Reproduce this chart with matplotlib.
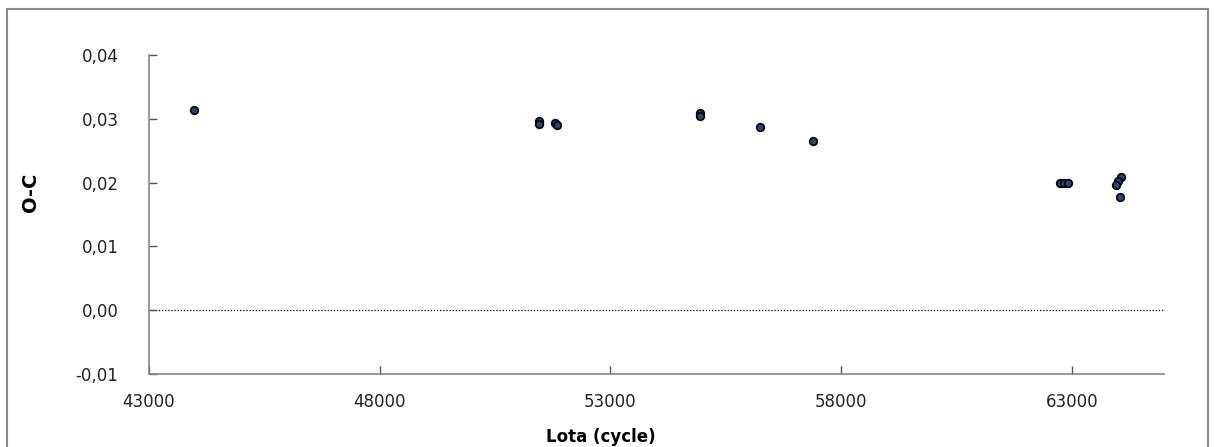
import matplotlib
matplotlib.use("Agg")
import matplotlib.pyplot as plt
from matplotlib.patches import Rectangle
from matplotlib.ticker import FuncFormatter

# Data (cycle number, O-C)
cycles = [43975, 51451, 51451, 51798, 51841, 54939, 54939, 56240, 57388,
          62740, 62830, 62913, 64062, 63997, 63953, 64040]
oc = [0.0314, 0.0297, 0.0292, 0.0293, 0.0290, 0.0309, 0.0304, 0.0287, 0.0265,
      0.0200, 0.0199, 0.0200, 0.0209, 0.0203, 0.0197, 0.0177]
xticks = [43000, 48000, 53000, 58000, 63000]
yticks = [-0.01, 0.0, 0.01, 0.02, 0.03, 0.04]

plt.rcParams['font.family'] = ['DejaVu Sans']

fig = plt.figure(figsize=(12.15, 4.47), dpi=100)
ax = fig.add_axes([149/1215, 1 - 374/447, (1164 - 149)/1215, (374 - 55)/447])

# Figure frame
fig.patches.append(Rectangle((7/1215, -0.05), (1208 - 7)/1215, 1.05 - 9/447,
                             transform=fig.transFigure, fill=False,
                             edgecolor='#8c8c8c', linewidth=1.5))

ax.axhline(0, color='black', linestyle=(0, (1, 1.5)), linewidth=0.9, zorder=1)
ax.plot(cycles, oc, linestyle='none', marker='o', markersize=5.5,
        markerfacecolor='#23477d', markeredgecolor='black',
        markeredgewidth=1.2, zorder=3)

ax.set_xlim(43000, 65000)
ax.set_ylim(-0.01, 0.04)
ax.set_xticks(xticks)
ax.set_yticks(yticks)
ax.yaxis.set_major_formatter(FuncFormatter(lambda v, p: f"{v:.2f}".replace('.', ',')))
ax.xaxis.set_major_formatter(FuncFormatter(lambda v, p: f"{int(v)}"))

for s in ['top', 'right']:
    ax.spines[s].set_visible(False)
for s in ['left', 'bottom']:
    ax.spines[s].set_color('#868686')
    ax.spines[s].set_linewidth(1.2)

ax.tick_params(direction='in', length=6, width=1, color='#555555',
               labelsize=12, labelcolor='#222222')
ax.tick_params(axis='y', pad=22)
ax.tick_params(axis='x', pad=14)

ax.set_xlabel('Lota (cycle)', fontsize=12, fontweight='bold')
ax.set_ylabel('O-C', fontsize=14, fontweight='bold')
ax.xaxis.set_label_coords((601 - 149)/(1164 - 149), -(428 - 374)/(374 - 55))
ax.yaxis.set_label_coords(-(149 - 40)/(1164 - 149), (374 - 192)/(374 - 55))

fig.savefig('out.png', dpi=100)
